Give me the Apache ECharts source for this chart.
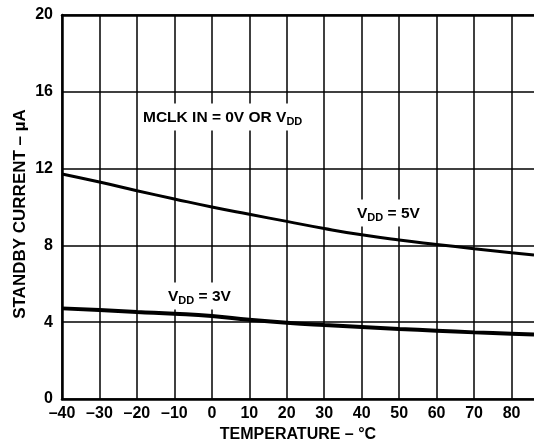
<!DOCTYPE html>
<html>
<head>
<meta charset="utf-8">
<script src="https://cdn.jsdelivr.net/npm/echarts@6/dist/echarts.min.js"></script>
<style>
  html, body { margin: 0; padding: 0; background: #fff; }
  #chart { width: 534px; height: 443px; }
</style>
</head>
<body>
<div id="chart"></div>
<script>
  // temperature in °C, standby current in µA
  const temps = [-40, -30, -20, -10, 0, 10, 20, 30, 40, 50, 60, 70, 80, 86];
  const vdd5 = [11.72, 11.3, 10.85, 10.42, 10.0, 9.62, 9.25, 8.88, 8.55, 8.28, 8.05, 7.83, 7.62, 7.5];
  const vdd3 = [4.72, 4.63, 4.53, 4.44, 4.32, 4.13, 3.97, 3.85, 3.75, 3.65, 3.56, 3.47, 3.4, 3.36];

  const font = 'Liberation Sans, Arial, Helvetica, sans-serif';
  const pairs = (ys) => temps.map((t, i) => [t, ys[i]]);
  const dash = (v) => String(v).replace('-', '\u2013');

  const chart = echarts.init(document.getElementById('chart'));

  const labelBox = (x, y, main, sub, tail) => ({
    type: 'text',
    x: x,
    y: y,
    z: 50,
    style: {
      text: '{a|' + main + '}{s|' + sub + '}' + (tail ? '{a|' + tail + '}' : ''),
      verticalAlign: 'middle',
      backgroundColor: '#fff',
      padding: [5, 2, 4, 2],
      rich: {
        a: { fontSize: 15.5, fontWeight: 'bold', fontFamily: font, color: '#000', lineHeight: 18 },
        s: { fontSize: 11, fontWeight: 'bold', fontFamily: font, color: '#000', lineHeight: 18, padding: [9, 0, 0, 0] }
      }
    }
  });

  chart.setOption({
    animation: false,
    grid: { left: 62, top: 15, right: 0, bottom: 44, outerBoundsMode: 'none' },
    xAxis: [{
      type: 'value',
      min: -40,
      max: 86,
      interval: 10,
      axisLine: { show: true, onZero: false, lineStyle: { color: '#000', width: 2.5 } },
      axisTick: { show: false },
      axisLabel: {
        showMaxLabel: false,
        color: '#000', fontSize: 16, fontWeight: 'bold', fontFamily: font, margin: 7,
        formatter: dash
      },
      splitLine: { show: true, showMaxLine: false, lineStyle: { color: '#000', width: 1.5 } },
      name: 'TEMPERATURE \u2013 \u00b0C',
      nameLocation: 'middle',
      nameGap: 28,
      nameTextStyle: { color: '#000', fontSize: 16, fontWeight: 'bold', fontFamily: font }
    }, {
      type: 'value',
      position: 'top',
      min: -40,
      max: 86,
      axisLine: { show: true, onZero: false, lineStyle: { color: '#000', width: 2.5 } },
      axisTick: { show: false },
      axisLabel: { show: false },
      splitLine: { show: false }
    }],
    yAxis: {
      type: 'value',
      min: 0,
      max: 20,
      interval: 4,
      axisLine: { show: true, onZero: false, lineStyle: { color: '#000', width: 2.5 } },
      axisTick: { show: false },
      axisLabel: { color: '#000', fontSize: 16, fontWeight: 'bold', fontFamily: font, margin: 9 },
      splitLine: { show: true, lineStyle: { color: '#000', width: 1.5 } }
    },
    graphic: [
      {
        type: 'text',
        x: 20,
        y: 214,
        rotation: Math.PI / 2,
        style: {
          text: 'STANDBY CURRENT \u2013 \u00b5A',
          fontSize: 17, fontWeight: 'bold', fontFamily: font, fill: '#000',
          align: 'center', verticalAlign: 'middle'
        }
      },
      labelBox(141, 117, 'MCLK IN = 0V OR V', 'DD'),
      labelBox(355, 213, 'V', 'DD', ' = 5V'),
      labelBox(166, 296, 'V', 'DD', ' = 3V')
    ],
    series: [
      {
        name: 'VDD = 5V',
        type: 'line',
        smooth: true,
        showSymbol: false,
        data: pairs(vdd5),
        lineStyle: { color: '#000', width: 3 },
        z: 5
      },
      {
        name: 'VDD = 3V',
        type: 'line',
        smooth: true,
        showSymbol: false,
        data: pairs(vdd3),
        lineStyle: { color: '#000', width: 4 },
        z: 5
      }
    ]
  });
</script>
</body>
</html>
